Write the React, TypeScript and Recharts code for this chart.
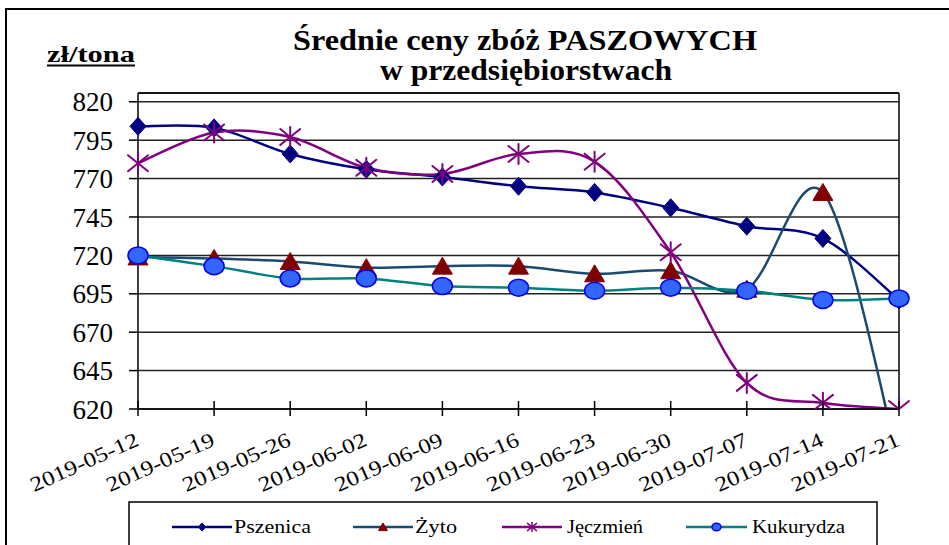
import React from 'react';
import { LineChart, Line, XAxis, YAxis, CartesianGrid, ReferenceLine } from 'recharts';

const dates = ['2019-05-12', '2019-05-19', '2019-05-26', '2019-06-02', '2019-06-09', '2019-06-16', '2019-06-23', '2019-06-30', '2019-07-07', '2019-07-14', '2019-07-21'];
const pszenica = [804, 803, 786, 776, 771, 765, 761, 751, 739, 731, 691];
const zyto = [719, 718, 716, 712, 713, 713, 708, 710, 698, 761, 585];
const jeczmien = [780, 800, 797, 777, 773, 786, 781, 722, 637, 624, 620];
const kukurydza = [720, 713, 705, 705, 700, 699, 697, 699, 697, 691, 692];
const yTicks = [620, 645, 670, 695, 720, 745, 770, 795, 820];
const yMax = 825.7;

const titleLine1 = 'Średnie ceny zbóż PASZOWYCH';
const titleLine2 = 'w przedsiębiorstwach';
const unitLabel = 'zł/tona';
const seriesNames = ['Pszenica', 'Żyto', 'Jęczmień', 'Kukurydza'];

const FONT = '"Liberation Serif", "DejaVu Serif", "Times New Roman", Times, serif';

const C_PSZ = '#000080';
const C_ZYTO_LINE = '#1a4a70';
const C_ZYTO_MARK = '#800000';
const C_JECZ = '#800080';
const C_KUK_LINE = '#008080';
const C_KUK_FILL = '#3366ff';
const C_KUK_STROKE = '#0000ee';

const data = dates.map((d, i) => ({
  date: d,
  pszenica: pszenica[i],
  zyto: zyto[i],
  jeczmien: jeczmien[i],
  kukurydza: kukurydza[i],
}));

// Excel-like smoothed line (Catmull-Rom as cubic Bezier)
function excelCurve(context: any) {
  let xs: number[] = [];
  let ys: number[] = [];
  return {
    areaStart() {},
    areaEnd() {},
    lineStart() {
      xs = [];
      ys = [];
    },
    lineEnd() {
      const n = xs.length;
      if (n === 0) return;
      context.moveTo(xs[0], ys[0]);
      for (let i = 0; i < n - 1; i++) {
        const a = Math.max(i - 1, 0);
        const d = Math.min(i + 2, n - 1);
        const c1x = xs[i] + (xs[i + 1] - xs[a]) / 6;
        const c1y = ys[i] + (ys[i + 1] - ys[a]) / 6;
        const c2x = xs[i + 1] - (xs[d] - xs[i]) / 6;
        const c2y = ys[i + 1] - (ys[d] - ys[i]) / 6;
        context.bezierCurveTo(c1x, c1y, c2x, c2y, xs[i + 1], ys[i + 1]);
      }
    },
    point(x: number, y: number) {
      xs.push(+x);
      ys.push(+y);
    },
  };
}

const Diamond = ({ cx, cy, s = 1 }: any) => (
  <polygon points={`${cx},${cy - 9 * s} ${cx + 8 * s},${cy} ${cx},${cy + 9 * s} ${cx - 8 * s},${cy}`} fill={C_PSZ} stroke={C_PSZ} strokeWidth={1} />
);
const Triangle = ({ cx, cy, s = 1 }: any) => (
  <polygon points={`${cx},${cy - 9 * s} ${cx + 10 * s},${cy + 8 * s} ${cx - 10 * s},${cy + 8 * s}`} fill={C_ZYTO_MARK} stroke={C_ZYTO_MARK} strokeWidth={1} />
);
const Asterisk = ({ cx, cy, s = 1, w = 2 }: any) => (
  <g stroke={C_JECZ} strokeWidth={w} strokeLinecap="round">
    <line x1={cx - 10 * s} y1={cy - 8 * s} x2={cx + 10 * s} y2={cy + 8 * s} />
    <line x1={cx - 10 * s} y1={cy + 8 * s} x2={cx + 10 * s} y2={cy - 8 * s} />
    <line x1={cx} y1={cy - 10 * s} x2={cx} y2={cy + 10 * s} />
  </g>
);
const Circle = ({ cx, cy, s = 1 }: any) => (
  <ellipse cx={cx} cy={cy} rx={10 * s} ry={8.5 * s} fill={C_KUK_FILL} stroke={C_KUK_STROKE} strokeWidth={1.5} />
);

const mkDot = (Comp: any) => (props: any) => {
  const { cx, cy, index, value } = props;
  if (cx == null || cy == null || value < 620) return <g key={`d-${index}`} />;
  return (
    <g key={`d-${index}`}>
      <Comp cx={cx} cy={cy} />
    </g>
  );
};

const renderXTick = (props: any) => {
  const { x, y, payload, index } = props;
  const ax = x + 2;
  const ay = y + 36;
  return (
    <g key={`xt-${index}`}>
      <line x1={x} x2={x} y1={y - 8} y2={y + 7} stroke="#000" strokeWidth={1.5} />
      <text
        x={ax}
        y={ay}
        textAnchor="end"
        fontSize={21}
        textLength={116}
        lengthAdjust="spacingAndGlyphs"
        fill="#000"
        transform={`rotate(-24, ${ax}, ${ay})`}
      >
        {payload.value}
      </text>
    </g>
  );
};

const legendItems = [
  { name: seriesNames[0], x1: 172, x2: 232, tx: 234, tl: 77, color: C_PSZ, M: Diamond },
  { name: seriesNames[1], x1: 353, x2: 413, tx: 415, tl: 42, color: C_ZYTO_LINE, M: Triangle },
  { name: seriesNames[2], x1: 502, x2: 562, tx: 567, tl: 76, color: C_JECZ, M: Asterisk },
  { name: seriesNames[3], x1: 686, x2: 747, tx: 752, tl: 93, color: C_KUK_LINE, M: Circle },
];

export default function App() {
  return (
    <div style={{ position: 'absolute', left: 0, top: 0, width: 949, height: 545, background: '#fff', overflow: 'hidden', fontFamily: FONT }}>
      <LineChart
        width={949}
        height={545}
        data={data}
        margin={{ top: 93, right: 50, left: 0, bottom: 0 }}
      >
        <CartesianGrid vertical={false} stroke="#222" strokeWidth={1.5} />
        <XAxis
          dataKey="date"
          interval={0}
          height={136}
          tickLine={false}
          tickSize={0}
          tickMargin={0}
          axisLine={{ stroke: '#000', strokeWidth: 1.5 }}
          tick={renderXTick}
        />
        <YAxis
          width={138}
          domain={[620, yMax]}
          ticks={yTicks}
          allowDataOverflow
          interval={0}
          tickSize={9}
          tickMargin={16}
          tickLine={{ stroke: '#000', strokeWidth: 1.5 }}
          axisLine={{ stroke: '#000', strokeWidth: 1.5 }}
          tick={{ fill: '#000', fontSize: 27 }}
        />
        <ReferenceLine y={yMax} stroke="#000" strokeWidth={1.5} />
        <ReferenceLine x={dates[dates.length - 1]} stroke="#000" strokeWidth={1.5} />
        <Line
          dataKey="pszenica"
          name={seriesNames[0]}
          type={excelCurve as any}
          stroke={C_PSZ}
          strokeWidth={2.5}
          dot={mkDot(Diamond)}
          activeDot={false}
          isAnimationActive={false}
        />
        <Line
          dataKey="zyto"
          name={seriesNames[1]}
          type={excelCurve as any}
          stroke={C_ZYTO_LINE}
          strokeWidth={2.5}
          dot={mkDot(Triangle)}
          activeDot={false}
          isAnimationActive={false}
        />
        <Line
          dataKey="jeczmien"
          name={seriesNames[2]}
          type={excelCurve as any}
          stroke={C_JECZ}
          strokeWidth={2.5}
          dot={mkDot(Asterisk)}
          activeDot={false}
          isAnimationActive={false}
        />
        <Line
          dataKey="kukurydza"
          name={seriesNames[3]}
          type={excelCurve as any}
          stroke={C_KUK_LINE}
          strokeWidth={2.5}
          dot={mkDot(Circle)}
          activeDot={false}
          isAnimationActive={false}
        />
      </LineChart>
      <svg width={949} height={545} style={{ position: 'absolute', left: 0, top: 0, pointerEvents: 'none', fontFamily: FONT }}>
        <rect x={6} y={9} width={1000} height={700} fill="none" stroke="#000" strokeWidth={2} />
        <text x={525} y={50} textAnchor="middle" fontWeight="bold" fontSize={30} textLength={464} lengthAdjust="spacingAndGlyphs" fill="#000">
          {titleLine1}
        </text>
        <text x={526} y={80} textAnchor="middle" fontWeight="bold" fontSize={30} textLength={292} lengthAdjust="spacingAndGlyphs" fill="#000">
          {titleLine2}
        </text>
        <text x={47} y={62} fontWeight="bold" fontSize={23} textLength={88} lengthAdjust="spacingAndGlyphs" fill="#000">
          {unitLabel}
        </text>
        <line x1={47} x2={135} y1={65.5} y2={65.5} stroke="#000" strokeWidth={2} />
        <rect x={129} y={502} width={748} height={80} fill="#fff" stroke="#000" strokeWidth={1.5} />
        {legendItems.map((it) => (
          <g key={it.name}>
            <line x1={it.x1} x2={it.x2} y1={527} y2={527} stroke={it.color} strokeWidth={2.5} />
            <it.M cx={(it.x1 + it.x2) / 2} cy={527} s={0.45} w={1.5} />
            <text x={it.tx} y={533} fontSize={18} textLength={it.tl} lengthAdjust="spacingAndGlyphs" fill="#000">
              {it.name}
            </text>
          </g>
        ))}
      </svg>
    </div>
  );
}
